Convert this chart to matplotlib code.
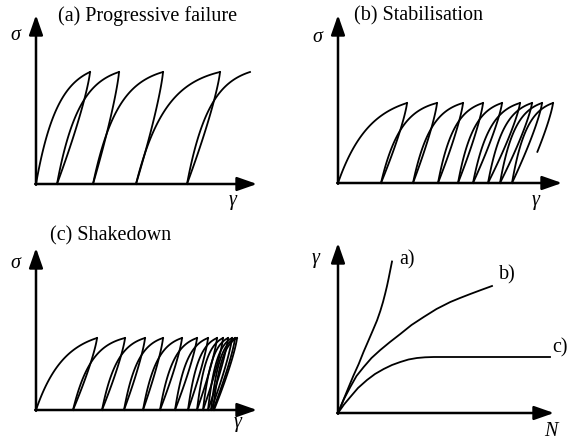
"""Schematic stress-strain loops for the three shakedown regimes, plus strain vs cycles."""
import matplotlib
matplotlib.use("Agg")
import matplotlib.pyplot as plt
import numpy as np

plt.rcParams["font.family"] = ["Liberation Serif", "DejaVu Serif"]

W, H = 568, 441

# strain positions of each reload start (sigma = 0) and each peak, in drawing units
starts_a = [0, 21, 57, 100, 151]
peaks_a = [54, 83, 127, 184, 214]
sigma_a = 112

starts_b = [0, 43, 75, 100, 120, 135, 150, 162, 174, 186]
peaks_b = [69, 99, 125, 145, 164, 182, 194, 204, 215]
sigma_b = 80
tail_b = 0.39  # last unloading is cut off at this fraction of the peak

starts_c = [0, 37, 66, 88, 107, 124, 139, 152, 161, 167, 172, 175, 177, 178]
peaks_c = [61, 89, 109, 127, 146, 161, 172, 181, 187, 192, 196, 199, 201]
sigma_c = 72

# permanent strain vs number of cycles
n_a = [0, 6, 10.7, 15.5, 20.7, 25.5, 30.7, 35, 39, 42.3, 45, 47.2, 49, 50.6, 52, 53, 54]
g_a = [0, 14.5, 26, 37.5, 49, 61, 73, 83, 92.5, 102, 111, 119.5, 127, 134.5, 141.5, 146.5, 151.5]
n_b = [0, 6, 12.3, 18.5, 25.7, 33.5, 42.3, 52, 62.3, 73.5, 85.7, 98.5, 112.3, 122, 132.3, 143, 154]
g_b = [0, 14, 26, 37, 46, 55, 63, 71, 79, 88, 96, 104, 111, 115, 119, 123, 127]
n_c = [0, 6, 12.3, 20, 29, 37, 45.7, 54, 62.3, 70.5, 79, 87, 95.7, 110, 130, 212]
g_c = [0, 8.5, 16, 25, 33, 39, 44, 48, 51, 53.5, 55, 55.7, 56, 56, 56, 56]

LW = 1.3
FS = 14.5


def panel(ox, oy, xext, yext):
    ax = fig.add_axes([ox / W, (H - oy) / H, xext / W, yext / H])
    ax.set_xlim(0, xext); ax.set_ylim(0, yext); ax.axis("off")
    style = dict(arrowstyle="-|>,head_length=1.2,head_width=0.42", lw=1.8, color="k",
                 mutation_scale=10, shrinkA=0, shrinkB=0)
    ax.annotate("", xy=(xext, 0), xytext=(-0.8, 0), arrowprops=style, annotation_clip=False)
    ax.annotate("", xy=(0, yext), xytext=(0, -0.8), arrowprops=style, annotation_clip=False)
    return ax


def loops(ax, starts, peaks, smax, k_first, tail=0.0):
    t = np.linspace(0, 1, 80)
    for i, (x0, xp) in enumerate(zip(starts, peaks)):
        k = k_first if i == 0 else 2.8
        s = (1 - np.exp(-k * t)) / (1 - np.exp(-k))
        ax.plot(x0 + (xp - x0) * t, smax * s, color="k", lw=LW, clip_on=False)
    for i in range(len(starts) - 1):
        xp, x1 = peaks[i], starts[i + 1]
        lo = tail if i == len(starts) - 2 else 0.0
        su = np.linspace(lo, 1, 80)
        ax.plot(x1 + (xp - x1) * (1 - (1 - su) ** 1.25), smax * su, color="k", lw=LW, clip_on=False)


fig = plt.figure(figsize=(W / 100, H / 100), dpi=100)

ax = panel(36, 184, 221, 169)
loops(ax, starts_a, peaks_a, sigma_a, 2.5)
ax.text(112, 168, "(a) Progressive failure", fontsize=FS, ha="center", va="center")
ax.text(-21, 148, "σ", fontsize=FS, style="italic", ha="center", va="center")
ax.text(197, -17, "γ", fontsize=FS, style="italic", ha="center", va="center")

ax = panel(338, 183, 224, 168)
loops(ax, starts_b, peaks_b, sigma_b, 2.2, tail_b)
ax.text(80, 167, "(b) Stabilisation", fontsize=FS, ha="center", va="center")
ax.text(-21, 145, "σ", fontsize=FS, style="italic", ha="center", va="center")
ax.text(198, -18, "γ", fontsize=FS, style="italic", ha="center", va="center")

ax = panel(36, 410, 221, 162)
loops(ax, starts_c, peaks_c, sigma_c, 2.2)
ax.text(75, 174, "(c) Shakedown", fontsize=FS, ha="center", va="center")
ax.text(-21, 146, "σ", fontsize=FS, style="italic", ha="center", va="center")
ax.text(202, -13, "γ", fontsize=FS, style="italic", ha="center", va="center")

ax = panel(338, 413, 216, 170)
for n, g, lab, pos in [(n_a, g_a, "a)", (61, 153)), (n_b, g_b, "b)", (161, 138)),
                       (n_c, g_c, "c)", (214, 65))]:
    ax.plot(n, g, color="k", lw=LW, clip_on=False, solid_joinstyle="round")
    ax.text(pos[0], pos[1], lab, fontsize=FS, ha="left", va="center")
ax.text(-22, 155, "γ", fontsize=FS, style="italic", ha="center", va="center")
ax.text(213, -18, "N", fontsize=FS, style="italic", ha="center", va="center")

fig.savefig("out.png", dpi=100)
